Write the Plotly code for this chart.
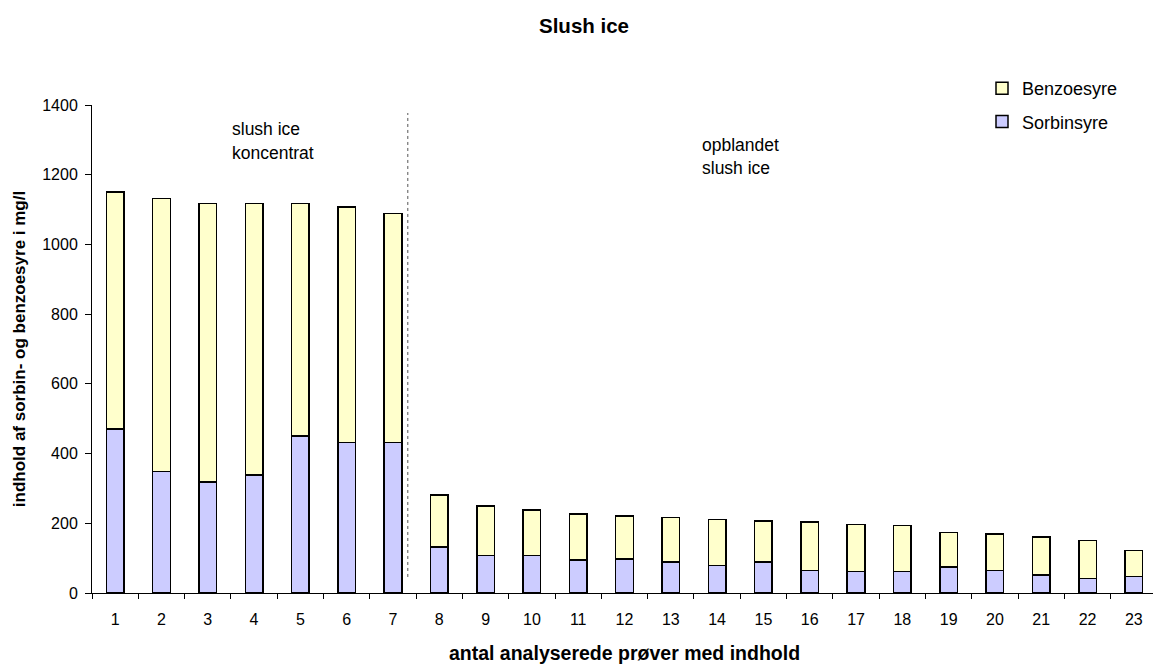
import plotly.graph_objects as go

categories = [str(i) for i in range(1, 24)]
sorbinsyre = [470, 348, 319, 338, 451, 432, 432, 132, 107, 107, 94, 98, 89, 79, 89, 65, 61, 61, 75, 65, 52, 42, 47]
benzoesyre = [680, 784, 799, 780, 667, 676, 657, 149, 143, 131, 132, 123, 127, 132, 118, 138, 136, 132, 99, 104, 108, 108, 75]

FONT = "Liberation Sans, Arial, sans-serif"
OFF = 8  # default page body margin
W, H = 1161 - OFF, 664 - OFF
L, R, T, B = 92 - OFF, 1157 - OFF, 105 - OFF, 593 - OFF  # plot area in figure pixels

fig = go.Figure()
fig.add_trace(go.Bar(
    x=categories, y=sorbinsyre, name="Sorbinsyre", legendgroup="s", legendrank=2,
    marker=dict(color="#CCCCFF", line=dict(color="black", width=1.5)),
))
fig.add_trace(go.Bar(
    x=categories, y=benzoesyre, name="Benzoesyre", legendgroup="b", legendrank=1,
    marker=dict(color="#FFFFCC", line=dict(color="black", width=1.5)),
))

# dotted separator between concentrate and diluted samples
fig.add_shape(type="line", xref="x", yref="y", x0=6.32, x1=6.32, y0=46, y1=1377,
              line=dict(color="#555555", width=1, dash="dot"))

ann_font = dict(family=FONT, size=17.5, color="black")
for txt, x, y in [("slush ice", 230, 129), ("koncentrat", 230, 153),
                  ("opblandet", 700, 145), ("slush ice", 700, 168)]:
    fig.add_annotation(text=txt, xref="paper", yref="paper",
                       x=(x - OFF - L) / (R - L), y=(B - (y - OFF)) / (B - T),
                       xanchor="left", yanchor="middle", showarrow=False, font=ann_font)

fig.update_layout(
    width=W, height=H,
    margin=dict(l=L, r=W - R, t=T, b=H - B, autoexpand=False),
    paper_bgcolor="white", plot_bgcolor="white",
    font=dict(family=FONT, size=16, color="black"),
    title=dict(text="<b>Slush ice</b>", x=(584 - OFF) / W, xref="container", xanchor="center",
               y=1 - (26 - OFF) / H, yanchor="middle", font=dict(size=20.5)),
    barmode="stack", bargap=0.62,
    showlegend=True,
    legend=dict(x=(982 - OFF - L) / (R - L), y=1 - (70 - OFF) / H, xref="paper", yref="container",
                xanchor="left", yanchor="top",
                traceorder="grouped", tracegroupgap=7, font=dict(size=18),
                bgcolor="rgba(0,0,0,0)"),
    xaxis=dict(type="category", tickson="boundaries", ticks="outside", ticklen=5,
               tickcolor="black", showline=True, linecolor="black", linewidth=1,
               showgrid=False, tickfont=dict(size=16), ticklabelstandoff=12,
               title=dict(text="<b>antal analyserede prøver med indhold</b>", font=dict(size=19.5), standoff=19)),
    yaxis=dict(range=[0, 1400], tickvals=[0, 200, 400, 600, 800, 1000, 1200, 1400],
               ticks="outside", ticklen=6, tickcolor="black", showline=True, linecolor="black",
               linewidth=1, showgrid=False, zeroline=False, tickfont=dict(size=16), ticklabelstandoff=4,
               title=dict(text="<b>indhold af sorbin- og benzoesyre i mg/l</b>", font=dict(size=17), standoff=12)),
)

fig.write_html("out.html")
